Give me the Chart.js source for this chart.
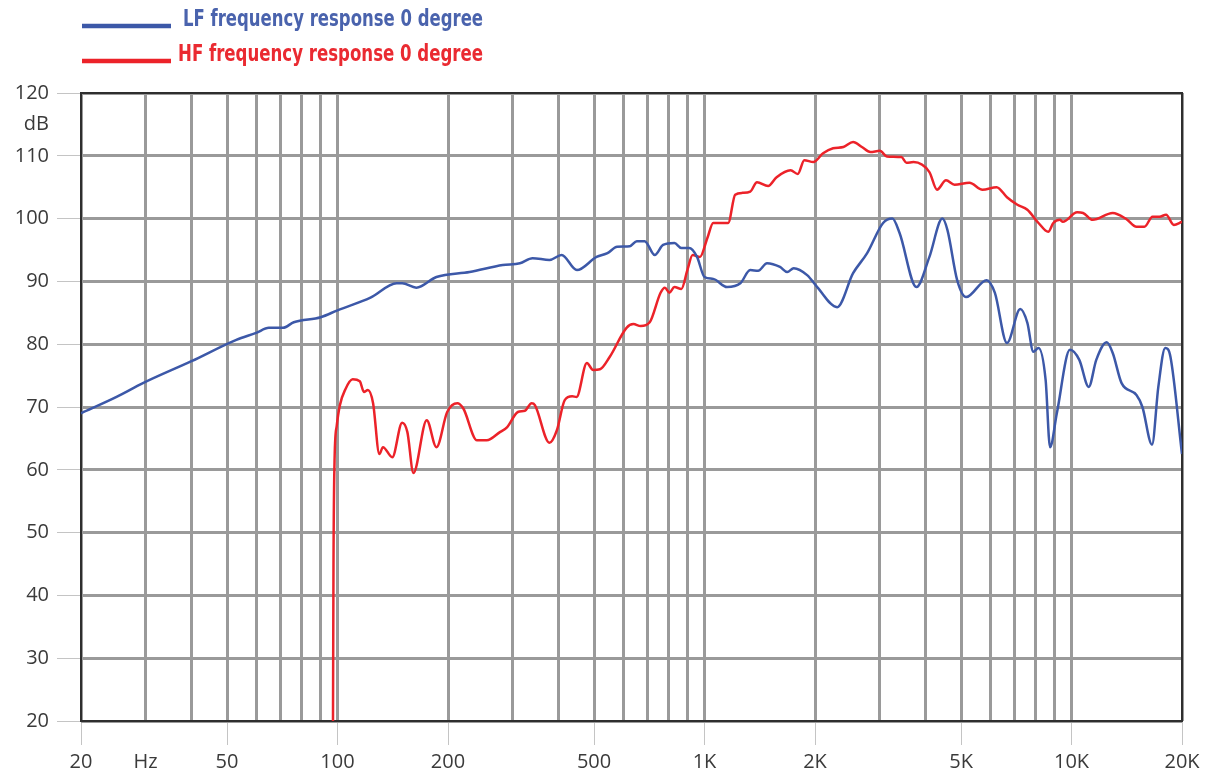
<!DOCTYPE html>
<html>
<head>
<meta charset="utf-8">
<script src="https://cdn.jsdelivr.net/npm/chart.js@4.4.1/dist/chart.umd.min.js"></script>
<style>
    html, body { margin: 0; padding: 0; background: #fff; }
    #wrap { width: 1214px; height: 780px; position: relative; }
</style>
</head>
<body>
<div id="wrap"><canvas id="myChart" width="1214" height="780"></canvas></div>
<script>
// LF curve (Hz, dB)
const lfFreq = [20, 25, 29.5, 40, 53, 60, 65, 71, 76, 90, 100, 123, 145, 150, 164, 186, 229, 282, 314, 340,
    378, 408, 449, 508, 544, 578, 626, 654, 687, 732, 771, 828, 865, 908, 954, 1000, 1056, 1152, 1252, 1332,
    1400, 1480, 1606, 1680, 1750, 1904, 2028, 2298, 2540, 2774, 3066, 3250, 3400, 3780, 4100, 4448, 4590,
    4880, 5160, 5870, 6180, 6670, 7250, 7580, 7870, 8130, 8500, 8740, 9120, 9900, 10500, 11140, 11680,
    12470, 12950, 13690, 15030, 15600, 16570, 17240, 18000, 18600, 20000];
const lfDb = [69.0, 71.6, 73.8, 77.3, 80.7, 81.8, 82.6, 82.6, 83.5, 84.3, 85.4, 87.4, 89.7, 89.7, 89.0, 90.7, 91.5, 92.6, 92.9, 93.7,
    93.4, 94.2, 91.8, 93.9, 94.5, 95.5, 95.6, 96.4, 96.4, 94.2, 95.8, 96.1, 95.3, 95.3, 93.9, 90.7, 90.4, 89.1, 89.7, 91.8,
    91.7, 92.9, 92.3, 91.5, 92.1, 91.0, 89.1, 85.9, 91.3, 94.5, 99.3, 100.0, 97.7, 89.1, 93.9, 100.0, 98.2,
    90.2, 87.5, 90.2, 88.2, 80.2, 85.6, 83.4, 78.8, 79.4, 74.3, 63.6, 69.0, 79.1, 77.5, 73.2, 77.5,
    80.3, 78.6, 73.8, 71.9, 70.0, 64.0, 73.2, 79.4, 78.0, 62.5];

// HF curve (Hz, dB)
const hfFreq = [97.2, 97.5, 98.2, 99.5, 101.5, 105, 110, 115, 118, 121, 125, 130, 133, 141, 150, 155, 161, 175, 186, 199,
    212, 220, 240, 255, 277, 290, 310, 324, 338, 345, 378, 396, 416, 436, 448, 478, 497, 519, 552, 613,
    640, 670, 709, 759, 780, 802, 828, 865, 898, 928, 972, 1018, 1056, 1100, 1160, 1212, 1270, 1332, 1390, 1490,
    1572, 1716, 1795, 1870, 1980, 2104, 2240, 2390, 2540, 2684, 2830, 3004, 3140, 3440, 3550, 3710, 4100, 4300,
    4550, 4800, 5270, 5720, 6250, 6670, 7120, 7580, 8130, 8640, 8920, 9300, 9470, 10360, 10750, 11420, 12950,
    14120, 15030, 15800, 16620, 17360, 18100, 19000, 20000];
const hfDb = [20, 45, 62, 67, 70.3, 72.8, 74.4, 74.1, 72.4, 72.7, 70.6, 62.5, 63.6, 62.0, 67.5, 66.0, 59.5, 67.9, 63.6, 69.2,
    70.6, 69.8, 64.7, 64.7, 66.0, 66.8, 69.2, 69.4, 70.6, 70.3, 64.3, 66.3, 71.1, 71.7, 71.6, 77.0, 75.9, 76.0, 78.0, 82.6,
    83.2, 82.9, 83.5, 88.2, 89.0, 88.2, 89.1, 88.8, 91.8, 94.2, 93.9, 96.9, 99.3, 99.3, 99.3, 103.8, 104.1, 104.3, 105.8, 105.2,
    106.6, 107.7, 107.1, 109.3, 109.0, 110.4, 111.2, 111.4, 112.2, 111.4, 110.6, 110.8, 109.9, 109.8, 108.9, 109.0, 107.4, 104.6,
    106.1, 105.4, 105.7, 104.6, 105.0, 103.4, 102.2, 101.4, 99.3, 97.9, 99.3, 99.8, 99.5, 101.0, 100.9, 99.8, 100.9,
    99.9, 98.7, 98.7, 100.3, 100.3, 100.6, 99.0, 99.5];

// axis ticks
const xGridValues = [20, 30, 40, 50, 60, 70, 80, 90, 100, 200, 300, 400, 500, 600, 700, 800, 900,
    1000, 2000, 3000, 4000, 5000, 6000, 7000, 8000, 9000, 10000, 20000];
const xTickLabels = { 20: "20", 30: "Hz", 50: "50", 100: "100", 200: "200", 500: "500",
    1000: "1K", 2000: "2K", 5000: "5K", 10000: "10K", 20000: "20K" };
const yTickValues = [20, 30, 40, 50, 60, 70, 80, 90, 100, 110, 115, 120];
const yUnitValue = 115; // "dB" sits between 110 and 120

const seriesNames = ["LF frequency response 0 degree", "HF frequency response 0 degree"];
const blue = "#3c58a8";
const red = "#ec2229";

function toPoints(freqs, dbs) {
    return freqs.map((f, i) => ({ x: f, y: dbs[i] }));
}

// legend + frame drawn by hand
const framePlugin = {
    id: "frame",
    beforeDatasetsDraw(chart) {
        const { ctx, chartArea } = chart;
        ctx.save();
        ctx.strokeStyle = "#2e2e2e";
        ctx.lineWidth = 2;
        ctx.strokeRect(chartArea.left, chartArea.top, chartArea.right - chartArea.left, chartArea.bottom - chartArea.top);
        ctx.restore();
    },
    afterDraw(chart) {
        const { ctx } = chart;
        ctx.save();
        const rows = [
            { y: 26, textX: 183, textY: 20, width: 300, color: blue, textColor: "#4a63ad", name: seriesNames[0] },
            { y: 61, textX: 178, textY: 55, width: 305, color: red, textColor: "#ea2a31", name: seriesNames[1] }
        ];
        rows.forEach(r => {
            ctx.strokeStyle = r.color;
            ctx.lineWidth = 4.5;
            ctx.beginPath();
            ctx.moveTo(82, r.y);
            ctx.lineTo(171, r.y);
            ctx.stroke();
            ctx.fillStyle = r.textColor;
            ctx.font = "bold 23px 'Liberation Sans Narrow', 'DejaVu Sans Condensed', sans-serif";
            ctx.textBaseline = "middle";
            ctx.textAlign = "left";
            // squeeze to the narrow face of the original
            ctx.fillText(r.name, r.textX, r.textY, r.width);
        });
        ctx.restore();
    }
};

const tickFont = { family: "'Open Sans', sans-serif", size: 20 };

const chart = new Chart(document.getElementById("myChart"), {
    type: "line",
    data: {
        datasets: [
            {
                label: seriesNames[0],
                data: toPoints(lfFreq, lfDb),
                borderColor: blue,
                borderWidth: 2.5,
                pointRadius: 0,
                cubicInterpolationMode: "monotone",
                fill: false
            },
            {
                label: seriesNames[1],
                data: toPoints(hfFreq, hfDb),
                borderColor: red,
                borderWidth: 2.5,
                pointRadius: 0,
                cubicInterpolationMode: "monotone",
                fill: false
            }
        ]
    },
    options: {
        responsive: false,
        animation: false,
        layout: { padding: { top: 93, right: 32, bottom: 0, left: 0 } },
        plugins: {
            legend: { display: false },
            tooltip: { enabled: false }
        },
        scales: {
            x: {
                type: "logarithmic",
                min: 20,
                max: 20000,
                afterBuildTicks: (scale) => {
                    scale.ticks = xGridValues.map(v => ({ value: v }));
                },
                afterFit: (scale) => { scale.height = 59; },
                border: { display: false },
                grid: {
                    color: "#9a9a9a",
                    lineWidth: 3,
                    tickLength: 24,
                    tickWidth: 1,
                    tickColor: (c) => (c.tick && xTickLabels[c.tick.value] && c.tick.value !== 30) ? "#c4c4c4" : "rgba(0,0,0,0)"
                },
                ticks: {
                    autoSkip: false,
                    maxRotation: 0,
                    padding: 5,
                    color: "#3a3a3a",
                    font: tickFont,
                    callback: (value) => xTickLabels[value] || ""
                }
            },
            y: {
                min: 20,
                max: 120,
                afterBuildTicks: (scale) => {
                    scale.ticks = yTickValues.map(v => ({ value: v }));
                },
                afterFit: (scale) => { scale.width = 81; },
                border: { display: false },
                grid: {
                    color: (c) => (c.tick && c.tick.value === yUnitValue) ? "rgba(0,0,0,0)" : "#9a9a9a",
                    lineWidth: 3,
                    tickLength: 24,
                    tickWidth: 1,
                    tickColor: (c) => (c.tick && c.tick.value === yUnitValue) ? "rgba(0,0,0,0)" : "#c4c4c4"
                },
                ticks: {
                    padding: 8,
                    color: "#3a3a3a",
                    font: tickFont,
                    callback: (value) => value === yUnitValue ? "dB" : String(value)
                }
            }
        }
    },
    plugins: [framePlugin]
});
</script>
</body>
</html>
